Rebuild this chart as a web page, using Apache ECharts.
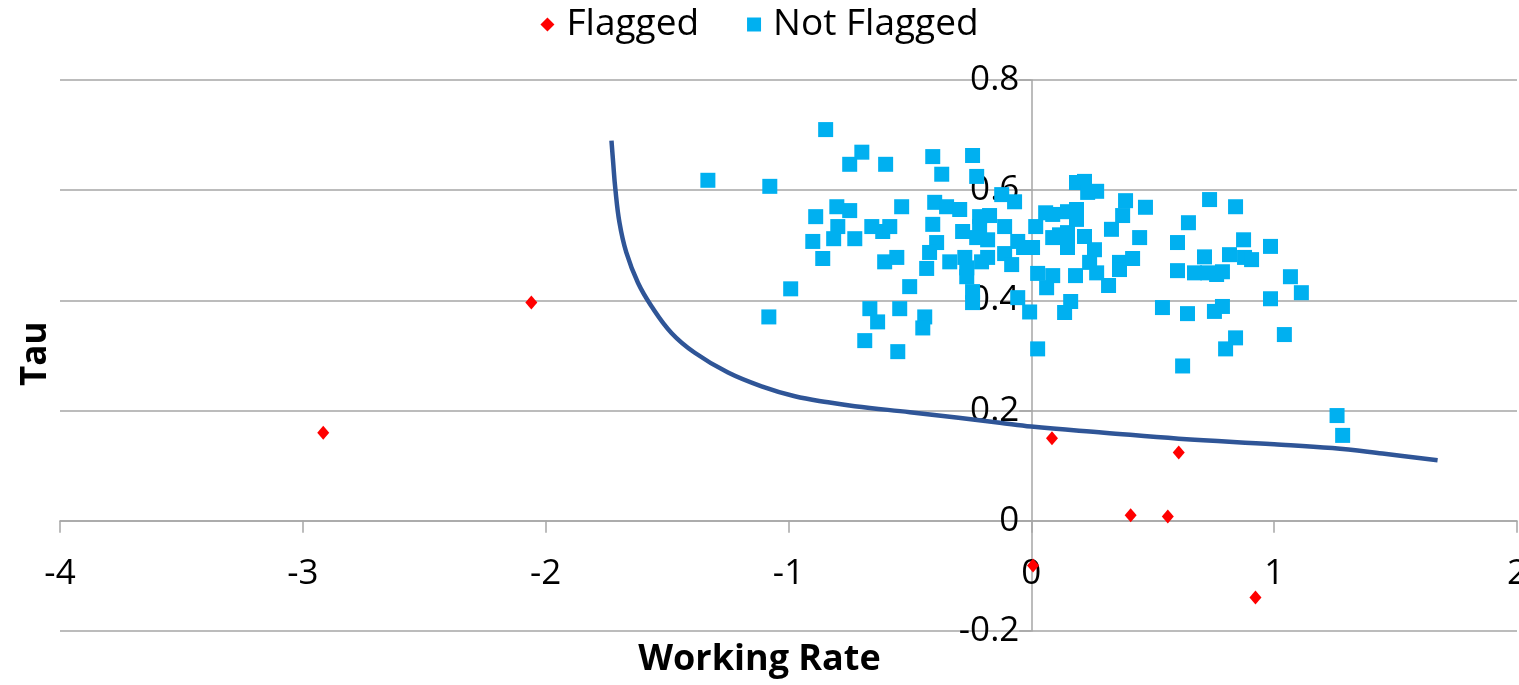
<!DOCTYPE html>
<html>
<head>
<meta charset="utf-8">
<title>Tau vs Working Rate</title>
<script src="https://cdn.jsdelivr.net/npm/echarts@6/dist/echarts.min.js"></script>
<style>
  html, body { margin: 0; padding: 0; background: #fff; }
  #chart { width: 1519px; height: 685px; }
</style>
</head>
<body>
<div id="chart"></div>
<script>
// [working rate, tau]
const flagged = [
  [-2.916, 0.160], [-2.059, 0.396], [0.085, 0.150], [0.607, 0.124],
  [0.409, 0.010], [0.562, 0.008], [0.007, -0.081], [0.923, -0.139]
]

const notFlagged = [
  [-1.332, 0.618], [-1.077, 0.607], [-0.847, 0.710], [-0.698, 0.669], [-0.748, 0.647],
  [-0.600, 0.647], [-0.406, 0.661], [-0.242, 0.663], [-0.369, 0.629], [-0.225, 0.625],
  [-0.122, 0.592], [-0.069, 0.579], [-0.398, 0.578], [-0.349, 0.570], [-0.295, 0.565],
  [-0.534, 0.570], [-0.801, 0.570], [-0.748, 0.563], [-0.888, 0.552], [-0.797, 0.534],
  [-0.657, 0.534], [-0.612, 0.525], [-0.583, 0.534], [-0.406, 0.538], [-0.213, 0.552],
  [-0.172, 0.554], [-0.283, 0.525], [-0.213, 0.534], [-0.110, 0.534], [-0.225, 0.514],
  [-0.180, 0.510], [-0.056, 0.507], [-0.032, 0.496], [-0.900, 0.507], [-0.814, 0.512],
  [-0.727, 0.512], [-0.859, 0.476], [-0.390, 0.505], [-0.419, 0.487], [-0.604, 0.470],
  [-0.554, 0.478], [-0.336, 0.470], [-0.274, 0.478], [-0.266, 0.459], [-0.205, 0.470],
  [-0.180, 0.478], [-0.110, 0.485], [-0.081, 0.465], [-0.431, 0.458], [-0.266, 0.443],
  [-0.501, 0.425], [-0.991, 0.421], [-0.242, 0.416], [-0.056, 0.405], [-0.007, 0.379],
  [-0.665, 0.385], [-0.633, 0.361], [-0.542, 0.385], [-0.439, 0.370], [-0.447, 0.350],
  [-1.081, 0.370], [-0.686, 0.327], [-0.550, 0.307], [-0.242, 0.396],
  [0.186, 0.614], [0.219, 0.616], [0.232, 0.596], [0.269, 0.598], [0.388, 0.581],
  [0.470, 0.569], [0.734, 0.583], [0.841, 0.570], [0.059, 0.559], [0.088, 0.556],
  [0.149, 0.561], [0.186, 0.565], [0.186, 0.547], [0.376, 0.554], [0.018, 0.534],
  [0.330, 0.529], [0.647, 0.541], [0.005, 0.496], [0.088, 0.514], [0.116, 0.519],
  [0.149, 0.523], [0.149, 0.496], [0.219, 0.516], [0.446, 0.514], [0.602, 0.505],
  [0.874, 0.510], [0.985, 0.498], [0.260, 0.492], [0.240, 0.469], [0.269, 0.450],
  [0.363, 0.469], [0.417, 0.476], [0.363, 0.456], [0.713, 0.479], [0.816, 0.483],
  [0.878, 0.478], [0.907, 0.474], [0.026, 0.449], [0.088, 0.445], [0.063, 0.423],
  [0.182, 0.445], [0.318, 0.427], [0.602, 0.454], [0.672, 0.450], [0.726, 0.450],
  [0.763, 0.447], [0.787, 0.452], [1.067, 0.443], [1.112, 0.414], [0.162, 0.398],
  [0.137, 0.378], [0.540, 0.387], [0.643, 0.376], [0.754, 0.380], [0.787, 0.389],
  [0.985, 0.403], [0.841, 0.332], [0.800, 0.312], [1.042, 0.338], [0.026, 0.312],
  [0.623, 0.281], [1.259, 0.191], [1.282, 0.155]
]

// threshold curve
const curve = [
  [-1.729, 0.690], [-1.722, 0.650], [-1.713, 0.602], [-1.696, 0.541], [-1.668, 0.487],
  [-1.620, 0.432], [-1.565, 0.390], [-1.482, 0.341], [-1.386, 0.305], [-1.249, 0.269],
  [-1.111, 0.244], [-0.974, 0.226], [-0.837, 0.215], [-0.727, 0.208], [-0.500, 0.197],
  [-0.300, 0.187], [-0.130, 0.178], [0.000, 0.171], [0.300, 0.160], [0.607, 0.149],
  [1.000, 0.139], [1.240, 0.132], [1.446, 0.122], [1.673, 0.110]
]

const xMin = -4, xMax = 2, xStep = 1
const yMin = -0.2, yMax = 0.8, yStep = 0.2

const FONT = '"Open Sans", "Liberation Sans", sans-serif'
const GRID_GRAY = '#a6a6a6'

// plot box
const W = 1519, H = 685
const gridBox = { left: 60, right: 2, top: 80, bottom: 54 }
const plotW = W - gridBox.left - gridBox.right
const plotH = H - gridBox.top - gridBox.bottom

// axes cross at (0, 0): shift each axis in from the grid edge
const xAxisShift = -((0 - yMin) / (yMax - yMin)) * plotH
const yAxisShift = -((0 - xMin) / (xMax - xMin)) * plotW

const myChart = echarts.init(document.getElementById('chart'))

const option = {
  animation: false,
  textStyle: { fontFamily: FONT },
  legend: {
    data: ['Flagged', 'Not Flagged'],
    left: 'center',
    top: 1,
    itemWidth: 14,
    itemHeight: 14,
    itemGap: 48,
    textStyle: { fontSize: 37, color: '#000', fontFamily: FONT, padding: [0, 0, 0, 7] }
  },
  grid: {
    left: gridBox.left,
    right: gridBox.right,
    top: gridBox.top,
    bottom: gridBox.bottom,
    containLabel: false,
    outerBoundsMode: 'none'
  },
  xAxis: {
    type: 'value',
    min: xMin,
    max: xMax,
    interval: xStep,
    position: 'bottom',
    offset: xAxisShift,
    axisLine: { onZero: false, lineStyle: { color: GRID_GRAY, width: 1.5 } },
    axisTick: { show: true, length: 12, lineStyle: { color: GRID_GRAY, width: 1.5 } },
    axisLabel: { fontSize: 35, color: '#000', margin: 36 },
    splitLine: { show: false }
  },
  yAxis: {
    type: 'value',
    min: yMin,
    max: yMax,
    interval: yStep,
    position: 'left',
    offset: yAxisShift,
    axisLine: { show: true, onZero: false, lineStyle: { color: GRID_GRAY, width: 1.5 } },
    axisTick: { show: true, length: 12, lineStyle: { color: GRID_GRAY, width: 1.5 } },
    axisLabel: {
      fontSize: 35,
      color: '#000',
      margin: 12,
      formatter: (v) => Math.abs(v) < 1e-9 ? '0' : String(Math.round(v * 10) / 10)
    },
    splitLine: { show: true, lineStyle: { color: GRID_GRAY, width: 1.5 } }
  },
  graphic: [
    {
      type: 'text',
      left: 'center',
      top: 642,
      style: { text: 'Working Rate', font: 'bold 36px ' + FONT, fill: '#000' }
    },
    {
      type: 'text',
      x: 19,
      y: 386,
      rotation: Math.PI / 2,
      style: { text: 'Tau', font: 'bold 35px ' + FONT, fill: '#000' }
    }
  ],
  series: [
    {
      name: 'Flagged',
      type: 'scatter',
      symbol: 'diamond',
      symbolSize: [12, 14],
      itemStyle: { color: '#ff0000', opacity: 1 },
      data: flagged,
      z: 3
    },
    {
      name: 'Not Flagged',
      type: 'scatter',
      symbol: 'rect',
      symbolSize: 15,
      itemStyle: { color: '#00b0f0', opacity: 1 },
      data: notFlagged,
      z: 3
    },
    {
      name: 'Threshold',
      type: 'line',
      data: curve,
      smooth: 0.4,
      showSymbol: false,
      symbol: 'none',
      lineStyle: { color: '#2f5597', width: 4.5 },
      z: 4
    }
  ]
}

myChart.setOption(option)
</script>
</body>
</html>
